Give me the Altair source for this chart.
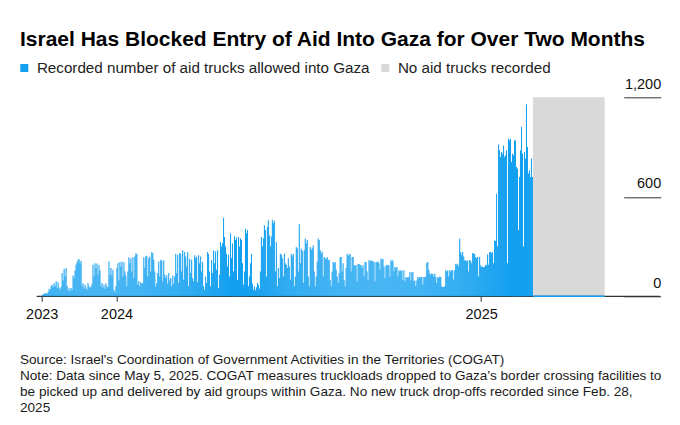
import altair as alt
import pandas as pd

# ---------------- data ----------------
title_text = "Israel Has Blocked Entry of Aid Into Gaza for Over Two Months"
series_labels = ["Recorded number of aid trucks allowed into Gaza", "No aid trucks recorded"]
series_colors = ["#14a0f0", "#d9d9d9"]
footer_lines = [
    "Source: Israel's Coordination of Government Activities in the Territories (COGAT)",
    "Note: Data since May 5, 2025. COGAT measures truckloads dropped to Gaza's border crossing facilities to",
    "be picked up and delivered by aid groups within Gaza. No new truck drop-offs recorded since Feb. 28,",
    "2025",
]

first_day = "2023-10-18"
blocked_start = "2025-02-22"
blocked_end = "2025-05-05"
y_ticks = [0, 600, 1200]

# daily recorded aid trucks, starting at first_day
trucks = [
    8, 12, 15, 20, 14, 18, 26, 45, 40, 62,
    70, 55, 78, 62, 90, 48, 85, 52, 40, 58,
    140, 95, 165, 120, 170, 60, 35, 48, 30, 50,
    40, 125, 110, 155, 190, 207, 220, 225, 200, 215,
    60, 78, 45, 70, 55, 40, 80, 62, 50, 58,
    75, 190, 120, 200, 170, 198, 130, 188, 155, 60,
    80, 52, 70, 45, 78, 60, 55, 210, 130, 170,
    125, 160, 40, 25, 60, 170, 200, 95, 207, 180,
    210, 120, 205, 150, 125, 60, 150, 235, 200, 230,
    150, 235, 110, 240, 260, 255, 70, 90, 60, 85,
    75, 80, 235, 170, 240, 244, 120, 230, 240, 150,
    267, 260, 220, 150, 60, 80, 140, 210, 120, 220,
    215, 90, 217, 130, 110, 127, 75, 140, 95, 110,
    60, 125, 75, 120, 257, 140, 250, 80, 261, 255,
    150, 277, 100, 267, 240, 180, 265, 60, 227, 140,
    220, 110, 90, 247, 230, 240, 85, 247, 200, 240,
    150, 207, 60, 40, 120, 80, 267, 255, 150, 60,
    217, 140, 277, 200, 270, 160, 277, 50, 130, 328,
    300, 320, 474, 358, 300, 257, 180, 250, 120, 378,
    230, 318, 150, 362, 340, 355, 100, 358, 300, 350,
    340, 200, 70, 150, 408, 380, 400, 60, 120, 200,
    257, 76, 40, 60, 36, 55, 80, 70, 45, 150,
    358, 300, 350, 428, 400, 120, 420, 458, 368, 300,
    360, 462, 440, 455, 150, 327, 60, 170, 110, 257,
    250, 230, 120, 257, 200, 190, 170, 230, 180, 100,
    257, 240, 255, 60, 120, 297, 290, 150, 434, 200,
    287, 275, 80, 277, 348, 320, 340, 120, 60, 297,
    280, 290, 307, 150, 60, 120, 210, 348, 340, 277,
    260, 270, 120, 237, 230, 225, 237, 217, 220, 100,
    60, 150, 207, 200, 207, 160, 120, 80, 140, 237,
    237, 150, 200, 100, 60, 170, 257, 245, 250, 257,
    150, 237, 237, 187, 185, 187, 90, 197, 195, 190,
    187, 170, 187, 120, 207, 207, 150, 100, 217, 210,
    217, 215, 210, 207, 90, 205, 207, 210, 200, 160,
    227, 220, 227, 180, 110, 187, 185, 190, 187, 120,
    217, 210, 217, 150, 177, 170, 177, 120, 157, 150,
    157, 155, 100, 157, 90, 117, 110, 117, 115, 147,
    96, 145, 147, 90, 96, 60, 96, 117, 110, 117,
    115, 117, 70, 117, 115, 120, 201, 207, 160, 137,
    130, 137, 135, 120, 137, 117, 80, 117, 110, 120,
    117, 60, 56, 56, 60, 157, 150, 157, 120, 157,
    150, 157, 157, 100, 157, 197, 190, 197, 180, 348,
    267, 250, 267, 240, 217, 217, 210, 217, 150, 217,
    215, 200, 261, 257, 257, 237, 230, 237, 120, 237,
    187, 177, 180, 175, 177, 190, 187, 253, 190, 267,
    267, 260, 267, 200, 338, 334, 619, 300, 916, 880,
    840, 870, 860, 910, 840, 850, 880, 200, 951, 940,
    950, 810, 860, 850, 940, 940, 780, 770, 400, 720,
    880, 1021, 860, 300, 870, 830, 1158, 900, 740, 760,
    720, 830, 720,
]

# ---------------- tables ----------------
days = pd.date_range(first_day, periods=len(trucks), freq="D")
bars_df = pd.DataFrame({
    "date": [d.strftime("%Y-%m-%d") + "T12:00:00Z" for d in days],
    "trucks": trucks,
    "series": series_labels[0],
})
blocked_df = pd.DataFrame({
    "start": [blocked_start],
    "end": [blocked_end],
    "top": [y_ticks[-1]],
    "series": [series_labels[1]],
})
one_row = alt.Data(values=[{"k": 1}])

FONT = "Liberation Sans"
W, H = 573, 199
BLUE = series_colors[0]

x_scale = alt.Scale(
    type="utc",
    domain=[alt.DateTime(year=2023, month=10, date=18, utc=True),
            alt.DateTime(year=2025, month=5, date=5, utc=True)],
)
y_scale = alt.Scale(domain=[0, 1200], nice=False, zero=True)

x_axis = alt.Axis(
    values=[alt.DateTime(year=2023, month=10, date=18, utc=True),
            alt.DateTime(year=2024, month=1, date=1, utc=True),
            alt.DateTime(year=2025, month=1, date=1, utc=True)],
    labelExpr="utcFormat(datum.value, '%Y')",
    domain=False, grid=False, ticks=True, tickSize=5, tickColor="#333", tickWidth=1,
    labelFontSize=14.5, labelFont=FONT, labelColor="#111", labelPadding=6,
    labelFlush=False, labelOverlap=False, title=None,
)
y_axis = alt.Axis(
    orient="right", values=y_ticks,
    labelExpr="format(datum.value, ',.0f')",
    domain=False, grid=False, ticks=True, tickSize=37, tickColor="#333", tickWidth=1,
    offset=14, labelAlign="right", labelBaseline="alphabetic", labelOffset=-9,
    labelPadding=0, labelFontSize=14.5, labelFont=FONT, labelColor="#111",
    labelFlush=False, labelOverlap=False, title=None,
)
color_scale = alt.Scale(domain=series_labels, range=series_colors)
legend = alt.Legend(
    orient="none", legendX=-20, legendY=-37, direction="horizontal", title=None,
    symbolType="square", symbolSize=64, symbolStrokeWidth=0, labelFontSize=15.2,
    labelFont=FONT, labelColor="#222", labelLimit=600, columnPadding=8, labelOffset=5,
    padding=0,
)

blocked = alt.Chart(blocked_df).mark_rect().encode(
    x=alt.X("start:T", scale=x_scale, axis=x_axis, title=None),
    x2="end:T",
    y=alt.Y("top:Q", scale=y_scale, axis=y_axis, title=None),
    y2=alt.datum(0),
    color=alt.Color("series:N", scale=color_scale, legend=legend),
)

baseline = alt.Chart(blocked_df).mark_rule(color="#333", strokeWidth=1.2).encode(
    x=alt.value(0), x2=alt.value(W + 50), y=alt.datum(0)
)

blocked_strip = alt.Chart(blocked_df).mark_rule(color=BLUE, strokeWidth=1.5).encode(
    x="start:T", x2="end:T", y=alt.datum(0)
)

bars = alt.Chart(bars_df).mark_bar(width=1.05).encode(
    x=alt.X("date:T"),
    y=alt.Y("trucks:Q"),
    color=alt.Color("series:N", scale=color_scale, legend=legend),
)

title = alt.Chart(one_row).mark_text(
    text=title_text, align="left", baseline="alphabetic", font=FONT,
    fontSize=21, fontWeight="bold", color="#000",
).encode(x=alt.value(-16.7), y=alt.value(-51.5))

footer = alt.Chart(one_row).mark_text(
    text=footer_lines, align="left", baseline="alphabetic", font=FONT,
    fontSize=13.6, color="#1a1a1a", lineHeight=16,
).encode(x=alt.value(-16.7), y=alt.value(267))

chart = alt.layer(blocked, baseline, blocked_strip, bars, title, footer).properties(
    width=W, height=H,
    padding={"left": 28.7, "top": 89.3, "right": 62, "bottom": 120},
    autosize=alt.AutoSizeParams(type="none"),
).configure_view(stroke=None)

chart.save("out.html", embed_options={"renderer": "svg", "actions": False})
